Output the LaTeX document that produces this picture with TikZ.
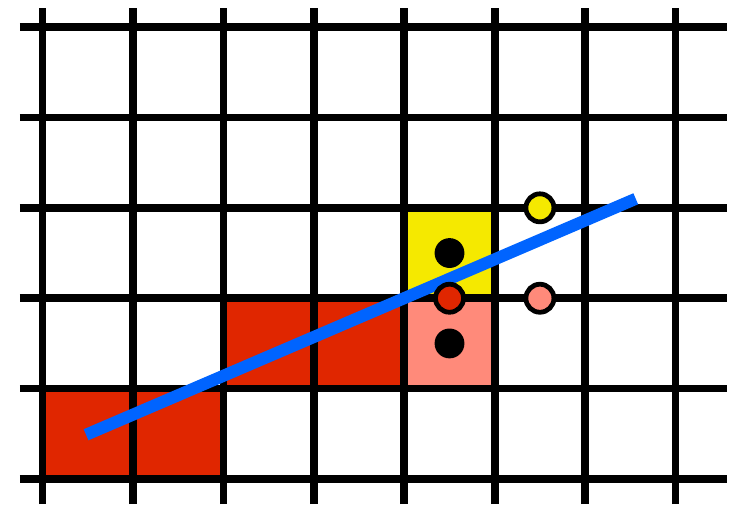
\documentclass[tikz,border=0pt]{standalone}
\usepackage{tikz}
\definecolor{celRojo}{HTML}{E02600}
\definecolor{celSalmon}{HTML}{FF8A7A}
\definecolor{celAmarillo}{HTML}{F5E900}
\definecolor{lineaAzul}{HTML}{0064FF}

\begin{document}
\begin{tikzpicture}[
      rejilla/.style={line width=2.4pt, black},
      celda/.style={fill=#1, draw=none},
      punto/.style={circle, fill=black, inner sep=0pt, minimum size=0.33cm},
      muestra/.style={circle, fill=#1, draw=black, line width=1.5pt,
                      inner sep=0pt, minimum size=0.31cm}]
    \useasboundingbox (-0.472,-0.299) rectangle (7.647,5.299);
    % celdas rellenas
    \fill[celda=celRojo] (0,0) rectangle (2,1);
    \fill[celda=celRojo] (2,1) rectangle (4,2);
    \fill[celda=celSalmon] (4,1) rectangle (5,2);
    \fill[celda=celAmarillo] (4,2) rectangle (5,3);
    % rejilla
    \foreach \x in {0,...,7}
      \draw[rejilla] (\x,-0.277) -- (\x,5.21);
    \foreach \y in {0,...,5}
      \draw[rejilla] (-0.251,\y) -- (7.57,\y);
    % recta
    \coordinate (ini) at (0.48,0.49);
    \coordinate (fin) at (6.56,3.10);
    \draw[lineaAzul, line width=3.8pt] (ini) -- (fin);
    % puntos
    \node[punto] (arriba) at (4.5,2.5) {};
    \node[punto] (abajo)  at (4.5,1.5) {};
    \node[muestra=celRojo]     (medio)  at (4.5,2) {};
    \node[muestra=celAmarillo] (sigA)   at (5.5,3) {};
    \node[muestra=celSalmon]   (sigB)   at (5.5,2) {};
  \end{tikzpicture}
\end{document}
